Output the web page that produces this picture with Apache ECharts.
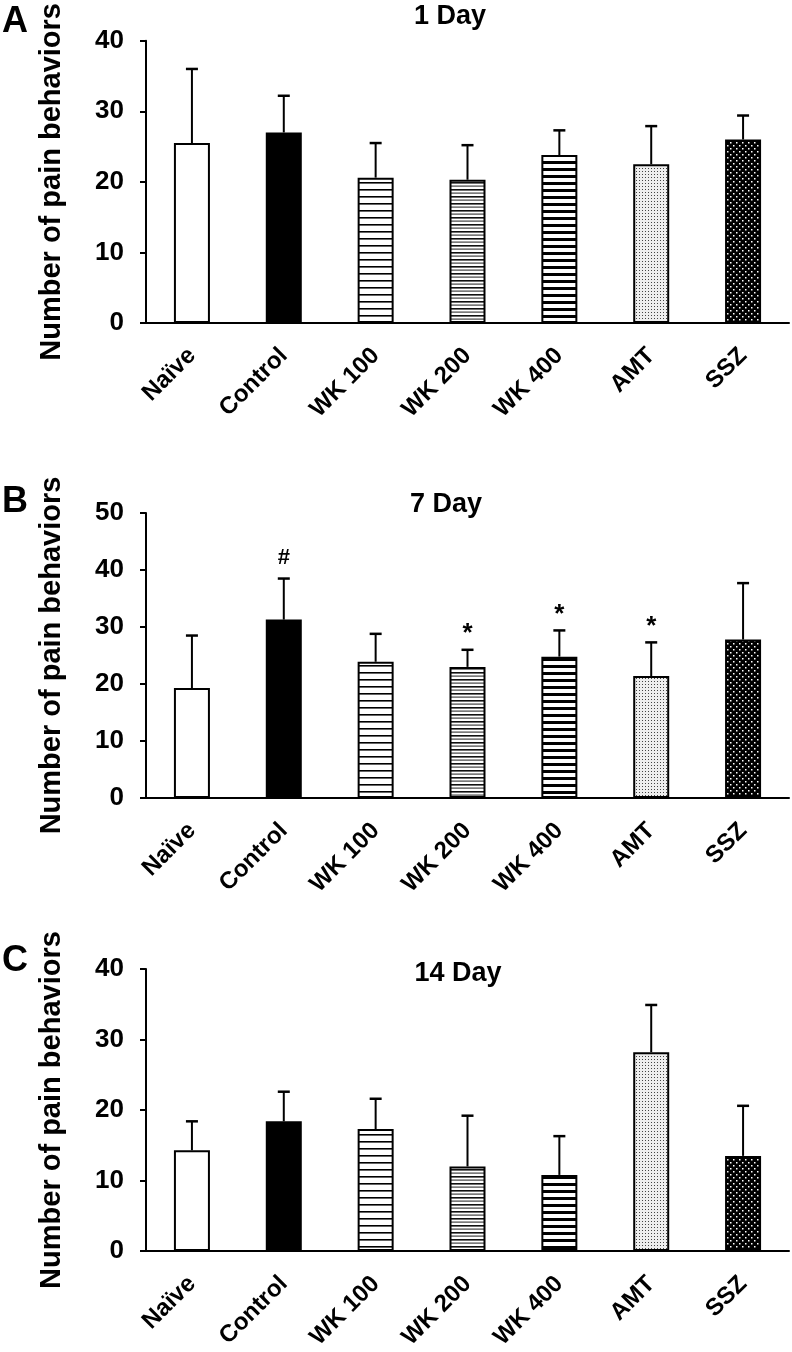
<!DOCTYPE html>
<html>
<head>
<meta charset="utf-8">
<script src="https://cdn.jsdelivr.net/npm/echarts@6/dist/echarts.min.js"></script>
<style>
html,body{margin:0;padding:0;background:#fff;}
#chart{width:792px;height:1352px;}
</style>
</head>
<body>
<div id="chart"></div>
<script>
// ---- data ----
const categories = ['Naïve', 'Control', 'WK 100', 'WK 200', 'WK 400', 'AMT', 'SSZ'];
const panelTitles = ['1 Day', '7 Day', '14 Day'];
const panelLetters = ['A', 'B', 'C'];
const day1Means = [25.5, 27.0, 20.6, 20.3, 23.8, 22.5, 26.0];
const day1Err   = [10.5, 5.2, 4.9, 4.9, 3.5, 5.4, 3.4];
const day7Means = [19.3, 31.3, 23.9, 23.0, 24.8, 21.4, 27.8];
const day7Err   = [9.2, 7.2, 4.9, 3.0, 4.6, 5.9, 9.9];
const day7Marks = ['', '#', '', '*', '*', '*', ''];
const day14Means = [14.3, 18.4, 17.3, 12.0, 10.8, 28.2, 13.5];
const day14Err   = [4.1, 4.2, 4.3, 7.2, 5.5, 6.7, 7.1];
const noMarks = ['', '', '', '', '', '', ''];
const yMax = [40, 50, 40];
const yInterval = 10;

// ---- patterns ----
function makeTile(w, h, draw) {
  const c = document.createElement('canvas');
  c.width = w; c.height = h;
  const ctx = c.getContext('2d');
  draw(ctx, w, h);
  return { image: c, repeat: 'repeat' };
}
const patterns = [
  '#ffffff',
  '#000000',
  makeTile(4, 7, (ctx, w, h) => { ctx.fillStyle = '#fff'; ctx.fillRect(0,0,w,h); ctx.fillStyle = '#000'; ctx.fillRect(0, 0, w, 1.6); }),
  makeTile(4, 7, (ctx, w, h) => { ctx.fillStyle = '#fff'; ctx.fillRect(0,0,w,h); ctx.fillStyle = '#111'; ctx.fillRect(0, 0, w, 1.6); ctx.fillStyle = '#444'; ctx.fillRect(0, 3.5, w, 1.2); }),
  makeTile(4, 7, (ctx, w, h) => { ctx.fillStyle = '#fff'; ctx.fillRect(0,0,w,h); ctx.fillStyle = '#000'; ctx.fillRect(0, 0, w, 3); }),
  makeTile(3, 3, (ctx, w, h) => { ctx.fillStyle = '#eeeeee'; ctx.fillRect(0,0,w,h); ctx.fillStyle = '#444'; ctx.fillRect(0, 0, 1, 1); }),
  makeTile(6, 6, (ctx, w, h) => { ctx.fillStyle = '#000'; ctx.fillRect(0,0,w,h); ctx.fillStyle = '#fff'; ctx.fillRect(1, 1, 1.5, 1.5); ctx.fillRect(4, 4, 1.5, 1.5); })
];

const FONT = "'Liberation Sans', Arial, Helvetica, sans-serif";
const grids = [
  { left: 146, right: 3, top: 39, height: 284 },
  { left: 146, right: 3, top: 513, height: 285 },
  { left: 146, right: 3, top: 969, height: 285 }
];
const panels = [
  { means: day1Means, err: day1Err, marks: noMarks },
  { means: day7Means, err: day7Err, marks: day7Marks },
  { means: day14Means, err: day14Err, marks: noMarks }
];

const xAxes = [], yAxes = [], series = [];
panels.forEach((p, i) => {
  xAxes.push({
    type: 'category', gridIndex: i, data: categories,
    axisLine: { lineStyle: { color: '#000', width: 2 } },
    axisTick: { alignWithLabel: true, length: 6, lineStyle: { color: '#000', width: 2 } },
    axisLabel: { interval: 0, rotate: 45, margin: 29, color: '#000', fontWeight: 'bold', fontSize: 24, fontFamily: FONT }
  });
  yAxes.push({
    type: 'value', gridIndex: i, min: 0, max: yMax[i], interval: yInterval,
    name: 'Number of pain behaviors', nameLocation: 'middle', nameRotate: 90, nameGap: 80,
    nameTextStyle: { color: '#000', fontWeight: 'bold', fontSize: 29, fontFamily: FONT },
    axisLine: { show: true, lineStyle: { color: '#000', width: 2 } },
    axisTick: { show: true, length: 6, lineStyle: { color: '#000', width: 2 } },
    splitLine: { show: false },
    axisLabel: { margin: 22, color: '#000', fontWeight: 'bold', fontSize: 26, fontFamily: FONT }
  });
  series.push({
    type: 'bar', xAxisIndex: i, yAxisIndex: i, barWidth: 36,
    data: p.means.map((v, k) => ({ value: v, itemStyle: { color: patterns[k] } })),
    itemStyle: { borderColor: '#000', borderWidth: 2 },
    silent: true, animation: false
  });
  series.push({
    type: 'custom', xAxisIndex: i, yAxisIndex: i, z: 5, animation: false, silent: true,
    data: p.means.map((v, k) => [k, v, v + p.err[k], p.marks[k]]),
    renderItem: function (params, api) {
      const base = api.coord([api.value(0), api.value(1)]);
      const top = api.coord([api.value(0), api.value(2)]);
      const mark = p.marks[params.dataIndex];
      const children = [
        { type: 'line', shape: { x1: base[0], y1: base[1], x2: top[0], y2: top[1] }, style: { stroke: '#000', lineWidth: 2 } },
        { type: 'line', shape: { x1: top[0] - 6, y1: top[1], x2: top[0] + 6, y2: top[1] }, style: { stroke: '#000', lineWidth: 2.5 } }
      ];
      if (mark) {
        children.push({ type: 'text', style: { text: mark, x: top[0], y: top[1] - (mark === '#' ? 10 : 3), textAlign: 'center', textVerticalAlign: 'bottom', font: 'bold ' + (mark === '#' ? 22 : 26) + 'px ' + FONT, fill: '#000' } });
      }
      return { type: 'group', children: children };
    }
  });
});

const graphics = [];
const titleY = [3, 491, 960];
const titleX = [450, 446, 458];
const letterY = [4, 484, 943];
for (let i = 0; i < 3; i++) {
  graphics.push({ type: 'text', x: titleX[i], y: titleY[i], style: { text: panelTitles[i], font: 'bold 27px ' + FONT, fill: '#000', textAlign: 'center', textVerticalAlign: 'top' } });
  graphics.push({ type: 'text', x: 2, y: letterY[i], style: { text: panelLetters[i], font: 'bold 36px ' + FONT, fill: '#000', textVerticalAlign: 'top' } });
}

const chart = echarts.init(document.getElementById('chart'), null, { renderer: 'canvas' });
chart.setOption({
  animation: false,
  backgroundColor: '#fff',
  grid: grids,
  xAxis: xAxes,
  yAxis: yAxes,
  series: series,
  graphic: graphics
});
</script>
</body>
</html>
